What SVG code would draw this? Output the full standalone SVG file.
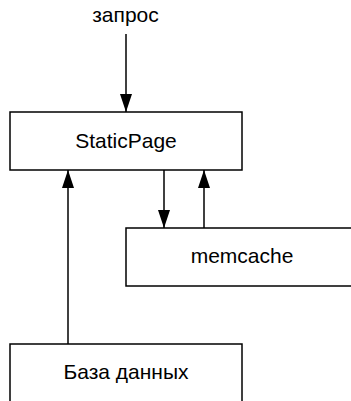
<svg xmlns="http://www.w3.org/2000/svg" width="351" height="401" viewBox="0 0 351 401">
<style>
.box{fill:#fff;stroke:#000;stroke-width:1.5}
.lbl{font-family:"Liberation Sans",Arial,sans-serif;font-size:21px;fill:#000;text-anchor:middle}
.edge{stroke:#000;stroke-width:1.5;fill:none;marker-end:url(#arr)}
</style>
<defs>
<marker id="arr" markerUnits="userSpaceOnUse" markerWidth="18" markerHeight="12" viewBox="0 0 18 12" refX="18" refY="6" orient="auto">
<path d="M0,0 L18,6 L0,12 z" fill="#000"/>
</marker>
</defs>
<rect width="351" height="401" fill="#fff"/>
<g id="request"><text class="lbl" x="125.5" y="22">запрос</text></g>
<g id="staticpage"><rect class="box" x="10" y="112" width="232" height="58"/><text class="lbl" x="126" y="148">StaticPage</text></g>
<g id="memcache"><rect class="box" x="126" y="228" width="232" height="58"/><text class="lbl" x="242" y="263">memcache</text></g>
<g id="database"><rect class="box" x="10" y="344" width="232" height="58"/><text class="lbl" x="126" y="379">База данных</text></g>
<g id="connectors">
<line class="edge" x1="126" y1="34" x2="126" y2="112"/>
<line class="edge" x1="164" y1="170" x2="164" y2="228"/>
<line class="edge" x1="204" y1="228" x2="204" y2="170"/>
<line class="edge" x1="68" y1="344" x2="68" y2="170"/>
</g>
</svg>
